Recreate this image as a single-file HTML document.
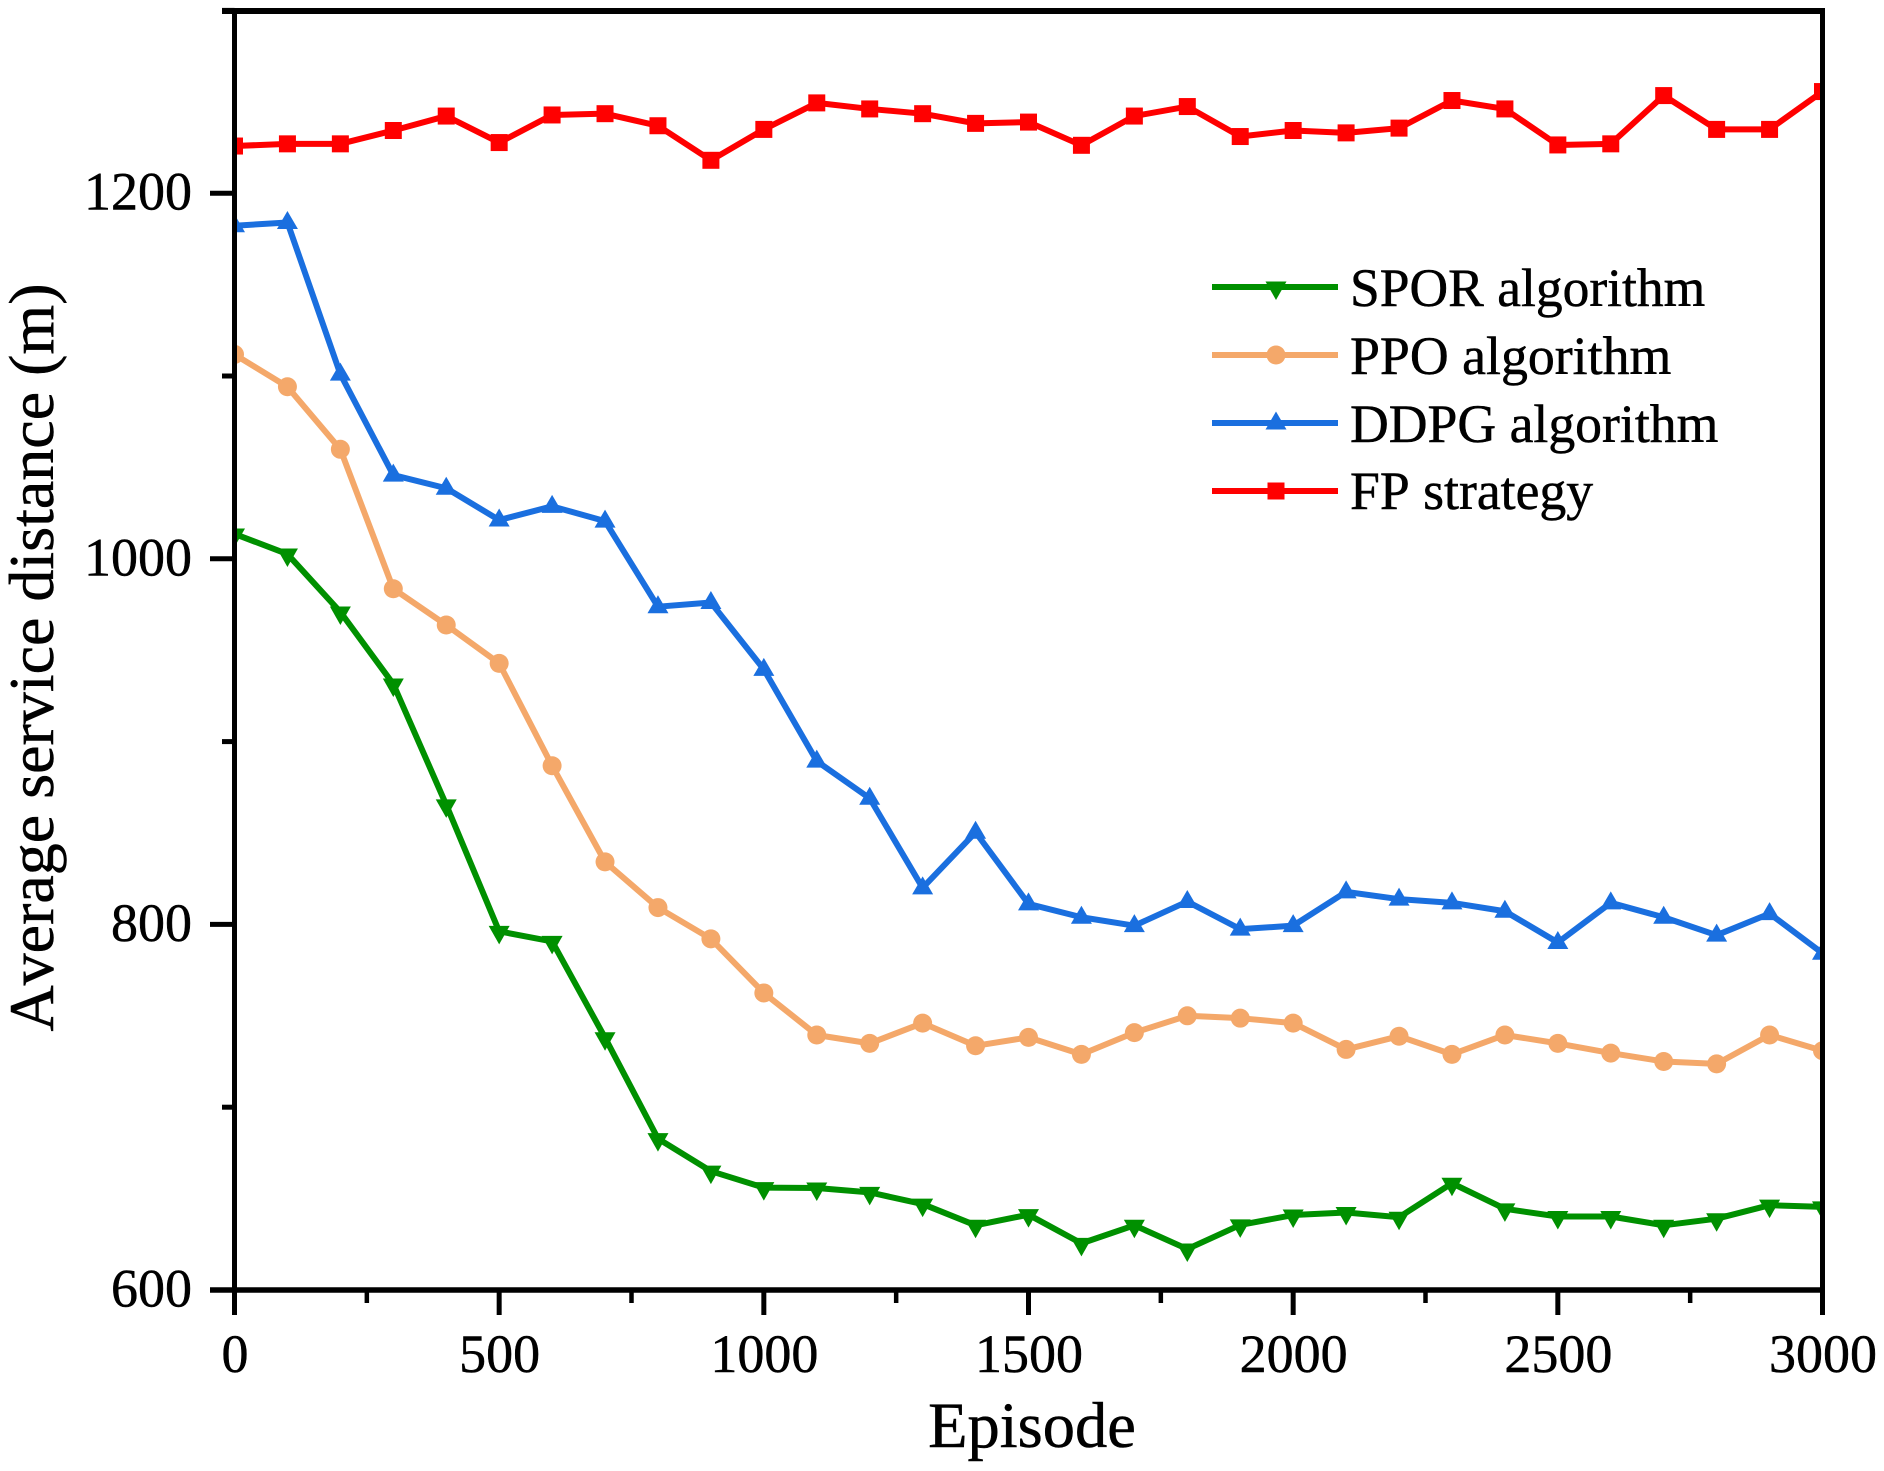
<!DOCTYPE html>
<html lang="en">
<head>
<meta charset="utf-8">
<title>Average service distance vs Episode</title>
<style>
html,body{margin:0;padding:0;background:#fff;}
svg{display:block;}
text{font-family:"Liberation Serif","Times New Roman",serif;fill:#000;font-kerning:none;stroke:#000;stroke-width:0.5px;}
</style>
</head>
<body>
<svg id="chart" xmlns="http://www.w3.org/2000/svg" width="1884" height="1471" viewBox="0 0 1884 1471">
  <rect x="0" y="0" width="1884" height="1471" fill="#fff"/>
  <defs>
    <clipPath id="plot-clip"><rect x="234.5" y="11" width="1588" height="1279"/></clipPath>
  </defs>
  <g id="series-layer" clip-path="url(#plot-clip)"></g>
  <g id="axes-layer"></g>
  <text x="1032" y="1447" font-size="64.5" text-anchor="middle">Episode</text>
  <text transform="translate(53,657.5) rotate(-90)" x="0" y="0" font-size="64" text-anchor="middle">Average service distance (m)</text>
  <g id="legend">
    <g>
      <line x1="1212" y1="287" x2="1338" y2="287" stroke="#009000" stroke-width="6"/>
      <polygon points="1265.5,281.5 1286.5,281.5 1276,300" fill="#009000"/>
      <text x="1350" y="306" font-size="53.5">SPOR algorithm</text>
    </g>
    <g>
      <line x1="1212" y1="355" x2="1338" y2="355" stroke="#F4A86A" stroke-width="6"/>
      <circle cx="1276" cy="355" r="9.5" fill="#F4A86A"/>
      <text x="1350" y="374" font-size="53.8">PPO algorithm</text>
    </g>
    <g>
      <line x1="1212" y1="423" x2="1338" y2="423" stroke="#1A6FDF" stroke-width="6"/>
      <polygon points="1265.5,429.5 1286.5,429.5 1276,411.5" fill="#1A6FDF"/>
      <text x="1350" y="442" font-size="53.7">DDPG algorithm</text>
    </g>
    <g>
      <line x1="1212" y1="491" x2="1338" y2="491" stroke="#FF0000" stroke-width="6"/>
      <rect x="1267.5" y="482.5" width="17" height="17" fill="#FF0000"/>
      <text x="1350" y="509" font-size="53.7">FP strategy</text>
    </g>
  </g>
</svg>
<script>
const episodes = [0,100,200,300,400,500,600,700,800,900,1000,1100,1200,1300,1400,1500,1600,1700,1800,1900,2000,2100,2200,2300,2400,2500,2600,2700,2800,2900,3000];
const fpValues = [1225.8,1227,1227,1234.3,1242.2,1227.7,1242.8,1243.5,1236.9,1218,1234.9,1249.4,1246.1,1243.5,1238.2,1238.9,1226.2,1242.2,1247.4,1231,1234.3,1233,1235.6,1250.7,1246.1,1226.4,1227,1253.4,1234.9,1234.9,1255.6];
const ddpgValues = [1182.2,1184,1101,1045.8,1038.6,1021.2,1028.7,1020.6,973.8,976.1,939.5,889.3,869,820,850.4,811.2,803.9,799.3,812.5,797.4,799.3,817.8,813.8,811.8,807.2,790.1,811.8,803.9,794.1,805.9,784.2];
const ppoValues = [1111.8,1094.1,1059.9,983.6,963.8,942.8,886.8,834.2,809.2,792.1,762.5,739.5,734.9,746,733.6,738.2,728.9,740.8,750,748.7,746,731.6,738.8,728.9,739.5,734.9,729.6,725,723.7,739.5,730.9];
const sporValues = [1013.6,1002.6,970.9,931.5,865.4,796.2,790.7,738,682.8,665,656,655.8,653.4,647,635.4,641.2,625.5,635.4,622.4,635.6,641,642.4,639.8,658.4,644.4,640.2,640.2,635.4,639,646.4,645.5];
const xMajorTicks = [0,500,1000,1500,2000,2500,3000];
const xMinorTicks = [250,750,1250,1750,2250,2750];
const yMajorTicks = [600,800,1000,1200];
const yMinorTicks = [700,900,1100,1300];

const NS = 'http://www.w3.org/2000/svg';
const xScale = v => 234.5 + (v - 0) * (1822.5 - 234.5) / 3000;
const yScale = v => 1290 - (v - 600) * (1290 - 10.4) / 700;

function make(tag, attrs, parent) {
  const el = document.createElementNS(NS, tag);
  for (const k in attrs) el.setAttribute(k, attrs[k]);
  parent.appendChild(el);
  return el;
}

const seriesLayer = document.getElementById('series-layer');
const axesLayer = document.getElementById('axes-layer');

function drawSeries(name, values, color, markerKind) {
  const group = make('g', {}, seriesLayer);
  
  
  const pts = values.map((v, i) => xScale(episodes[i]).toFixed(2) + ',' + yScale(v).toFixed(2)).join(' ');
  const line = make('polyline', {points: pts, fill: 'none', stroke: color, 'stroke-width': 6, 'stroke-linejoin': 'round'}, group);
  
  
  values.forEach((v, i) => {
    const x = xScale(episodes[i]);
    const y = yScale(v);
    let m;
    if (markerKind === 'square') {
      m = make('rect', {x: x - 8.5, y: y - 8.5, width: 17, height: 17, fill: color}, group);
    } else if (markerKind === 'circle') {
      m = make('circle', {cx: x, cy: y, r: 9.5, fill: color}, group);
    } else if (markerKind === 'up') {
      m = make('polygon', {points: (x-10.5)+','+(y+6.5)+' '+(x+10.5)+','+(y+6.5)+' '+x+','+(y-11.5), fill: color}, group);
    } else {
      m = make('polygon', {points: (x-10.5)+','+(y-5.5)+' '+(x+10.5)+','+(y-5.5)+' '+x+','+(y+13), fill: color}, group);
    }
    
    
  });
}

drawSeries('spor', sporValues, '#009000', 'down');
drawSeries('ppo', ppoValues, '#F4A86A', 'circle');
drawSeries('ddpg', ddpgValues, '#1A6FDF', 'up');
drawSeries('fp', fpValues, '#FF0000', 'square');

function axisLine(name, x1, y1, x2, y2, w) {
  const l = make('line', {x1: x1, y1: y1, x2: x2, y2: y2, stroke: '#000', 'stroke-width': w}, axesLayer);
  
  
}

axisLine('top-axis-line', 222, 11, 1825, 11, 6);
axisLine('right-axis-line', 1822.5, 8, 1822.5, 1315, 5);
axisLine('left-axis-line', 234.5, 8, 234.5, 1315, 5);
axisLine('bottom-axis-line', 210, 1290, 1825, 1290, 5.5);

xMajorTicks.forEach(v => {
  axisLine('x-major-tick', xScale(v), 1290, xScale(v), 1315, 5);
  const t = make('text', {x: xScale(v) + 0.5, y: 1372, 'font-size': 54, 'text-anchor': 'middle'}, axesLayer);
  
  
  t.textContent = String(v);
});
xMinorTicks.forEach(v => {
  axisLine('x-minor-tick', xScale(v), 1290, xScale(v), 1303, 4.5);
});
yMajorTicks.forEach(v => {
  axisLine('y-major-tick', 210, yScale(v), 234.5, yScale(v), 5);
  const t = make('text', {x: 192, y: yScale(v) + 16.5, 'font-size': 54, 'text-anchor': 'end'}, axesLayer);
  
  
  t.textContent = String(v);
});
yMinorTicks.forEach(v => {
  axisLine('y-minor-tick', 222, yScale(v), 234.5, yScale(v), 5);
});
</script>
</body>
</html>
